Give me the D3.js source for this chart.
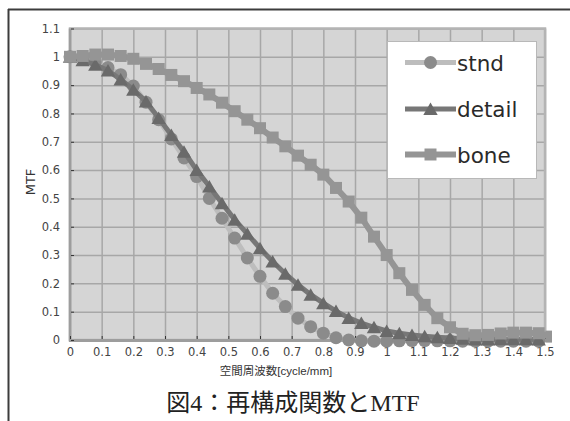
<!DOCTYPE html>
<html>
<head>
<meta charset="utf-8">
<script src="https://cdn.jsdelivr.net/npm/d3@7"></script>
<style>
  html, body { margin: 0; padding: 0; background: #fff; }
  svg { display: block; }
</style>
</head>
<body>
<svg id="chart" width="570" height="421"></svg>
<script>
// Spatial frequency samples (cycle/mm), step 0.04
const freq = [0, 0.04, 0.08, 0.12, 0.16, 0.20, 0.24, 0.28, 0.32, 0.36, 0.40, 0.44, 0.48, 0.52, 0.56,
  0.60, 0.64, 0.68, 0.72, 0.76, 0.80, 0.84, 0.88, 0.92, 0.96, 1.00, 1.04, 1.08, 1.12, 1.16,
  1.20, 1.24, 1.28, 1.32, 1.36, 1.40, 1.44, 1.48, 1.52];

// MTF per reconstruction kernel
const stnd = [1.0, 0.995, 0.982, 0.962, 0.937, 0.897, 0.84, 0.778, 0.71, 0.643, 0.577, 0.5, 0.43, 0.36, 0.29,
  0.225, 0.165, 0.118, 0.077, 0.047, 0.024, 0.008, 0.0, -0.003, -0.004, -0.004, -0.003, -0.002, -0.002, -0.003,
  -0.003, -0.004, -0.004, -0.004, -0.004, -0.004, -0.004, -0.004];
const detail = [1.0, 0.988, 0.972, 0.952, 0.92, 0.884, 0.842, 0.784, 0.724, 0.665, 0.6, 0.542, 0.483, 0.425, 0.375,
  0.324, 0.277, 0.234, 0.195, 0.16, 0.13, 0.102, 0.078, 0.06, 0.045, 0.032, 0.024, 0.018, 0.013, 0.01,
  0.007, 0.004, 0.002, 0.002, 0.003, 0.003, 0.003, 0.002];
const bone = [1.0, 1.003, 1.008, 1.008, 1.003, 0.993, 0.975, 0.957, 0.936, 0.914, 0.89, 0.867, 0.838, 0.808, 0.778,
  0.748, 0.715, 0.684, 0.651, 0.619, 0.584, 0.537, 0.489, 0.432, 0.365, 0.30, 0.236, 0.177, 0.124, 0.077,
  0.045, 0.022, 0.017, 0.018, 0.023, 0.026, 0.026, 0.024, 0.012];

const seriesNames = ["stnd", "detail", "bone"];
const xTickValues = [0, 0.1, 0.2, 0.3, 0.4, 0.5, 0.6, 0.7, 0.8, 0.9, 1, 1.1, 1.2, 1.3, 1.4, 1.5];
const yTickValues = [0, 0.1, 0.2, 0.3, 0.4, 0.5, 0.6, 0.7, 0.8, 0.9, 1, 1.1];
const xTitle = "空間周波数[cycle/mm]";
const yTitle = "MTF";
const caption = "図4：再構成関数とMTF";

const svg = d3.select("#chart");
const plot = { left: 70, right: 545, top: 28.5, bottom: 340 };

const x = d3.scaleLinear().domain([0, 1.5]).range([plot.left, plot.right]);
const y = d3.scaleLinear().domain([0, 1.1]).range([plot.bottom, plot.top]);

// outer frame (left and top rules)
svg.append("line").attr("x1", 8.5).attr("x2", 8.5).attr("y1", 9).attr("y2", 421)
  .attr("stroke", "#3c3c3c").attr("stroke-width", 2);
svg.append("line").attr("x1", 8).attr("x2", 570).attr("y1", 9.5).attr("y2", 9.5)
  .attr("stroke", "#3c3c3c").attr("stroke-width", 2);

// plot background
svg.append("rect")
  .attr("x", plot.left).attr("y", plot.top)
  .attr("width", plot.right - plot.left).attr("height", plot.bottom - plot.top)
  .attr("fill", "#d5d5d5");

// gridlines
svg.append("g")
  .attr("transform", `translate(0,${plot.bottom})`)
  .call(d3.axisBottom(x).tickValues(xTickValues).tickSize(-(plot.bottom - plot.top)).tickFormat(""))
  .call(g => g.select(".domain").remove())
  .call(g => g.selectAll("line").attr("stroke", "#a7a7a7").attr("stroke-width", 1.5));
svg.append("g")
  .attr("transform", `translate(${plot.left},0)`)
  .call(d3.axisLeft(y).tickValues(yTickValues).tickSize(-(plot.right - plot.left)).tickFormat(""))
  .call(g => g.select(".domain").remove())
  .call(g => g.selectAll("line").attr("stroke", "#a7a7a7").attr("stroke-width", 1.5));

// plot border
svg.append("rect")
  .attr("x", plot.left).attr("y", plot.top)
  .attr("width", plot.right - plot.left).attr("height", plot.bottom - plot.top)
  .attr("fill", "none").attr("stroke", "#b4b4b4").attr("stroke-width", 2.5);
svg.append("line").attr("x1", plot.left).attr("x2", plot.left).attr("y1", plot.top).attr("y2", plot.bottom + 1.5)
  .attr("stroke", "#9d9d9d").attr("stroke-width", 2.5);
svg.append("line").attr("x1", plot.left - 1).attr("x2", plot.right + 1.5).attr("y1", plot.bottom + 0.5).attr("y2", plot.bottom + 0.5)
  .attr("stroke", "#9d9d9d").attr("stroke-width", 3);

// axes with small inside ticks and labels
const tickFont = "'DejaVu Sans', 'Liberation Sans', sans-serif";
svg.append("g")
  .attr("transform", `translate(0,${plot.bottom - 1})`)
  .call(d3.axisBottom(x).tickValues(xTickValues).tickSizeInner(-3).tickSizeOuter(0).tickPadding(9)
    .tickFormat(d => d3.format("~g")(d)))
  .call(g => g.select(".domain").remove())
  .call(g => g.selectAll("line").attr("stroke", "#333").attr("stroke-width", 1))
  .call(g => g.selectAll("text").attr("font-family", tickFont).attr("font-size", 11.5).attr("fill", "#444"));
svg.append("g")
  .attr("transform", `translate(${plot.left + 1},0)`)
  .call(d3.axisLeft(y).tickValues(yTickValues).tickSizeInner(-3).tickSizeOuter(0).tickPadding(11)
    .tickFormat(d => d3.format("~g")(d)))
  .call(g => g.select(".domain").remove())
  .call(g => g.selectAll("line").attr("stroke", "#333").attr("stroke-width", 1))
  .call(g => g.selectAll("text").attr("font-family", tickFont).attr("font-size", 11.5).attr("fill", "#444"));

// axis titles
svg.append("text")
  .attr("x", 276).attr("y", 375)
  .attr("text-anchor", "middle")
  .attr("font-family", "'Liberation Sans', 'Noto Sans CJK JP', sans-serif")
  .attr("font-size", 11.5).attr("fill", "#333")
  .text(xTitle);
svg.append("text")
  .attr("transform", "translate(35,182) rotate(-90)")
  .attr("text-anchor", "middle")
  .attr("font-family", tickFont)
  .attr("font-size", 13).attr("fill", "#333")
  .text(yTitle);

// caption
svg.append("text")
  .attr("x", 293).attr("y", 411)
  .attr("text-anchor", "middle")
  .attr("font-family", "'Liberation Serif', 'Noto Sans CJK JP', serif")
  .attr("font-size", 24).attr("fill", "#222")
  .text(caption);

// series styles
const styles = {
  stnd:   { line: "#bdbdbd", lineWidth: 5, marker: "#8b8b8b", shape: "circle" },
  detail: { line: "#777777", lineWidth: 5, marker: "#6a6a6a", shape: "triangle" },
  bone:   { line: "#959595", lineWidth: 6, marker: "#959595", shape: "square" }
};
const seriesValues = { stnd, detail, bone };

function markerPath(shape) {
  if (shape === "circle") return "M-6.5,0A6.5,6.5 0 1,0 6.5,0A6.5,6.5 0 1,0 -6.5,0Z";
  if (shape === "triangle") return "M0,-6.5L7.2,6L-7.2,6Z";
  return "M-6,-6H6V6H-6Z";
}

svg.append("defs").append("clipPath").attr("id", "clip")
  .append("rect").attr("x", 0).attr("y", 0).attr("width", 552).attr("height", 421);

const marks = svg.append("g").attr("clip-path", "url(#clip)");
const line = d3.line().x(d => x(d[0])).y(d => y(d[1]));

seriesNames.forEach(name => {
  const pts = seriesValues[name].map((v, i) => [freq[i], v]);
  const st = styles[name];
  const g = marks.append("g");
  g.append("path").datum(pts).attr("d", line)
    .attr("fill", "none").attr("stroke", st.line).attr("stroke-width", st.lineWidth)
    .attr("stroke-linejoin", "round");
  g.selectAll("path.m").data(pts).join("path").attr("class", "m")
    .attr("transform", d => `translate(${x(d[0])},${y(d[1])})`)
    .attr("d", markerPath(st.shape))
    .attr("fill", st.marker);
});

// legend
const legend = svg.append("g");
legend.append("rect").attr("x", 387.5).attr("y", 41.5).attr("width", 149).attr("height", 137)
  .attr("fill", "#fff").attr("stroke", "#b8b8b8").attr("stroke-width", 1);
const legendY = [62.5, 109, 154.5];
seriesNames.forEach((name, i) => {
  const st = styles[name];
  const gy = legendY[i];
  legend.append("line").attr("x1", 405).attr("x2", 456).attr("y1", gy).attr("y2", gy)
    .attr("stroke", st.line).attr("stroke-width", st.lineWidth);
  legend.append("path").attr("transform", `translate(430.5,${gy})`)
    .attr("d", markerPath(st.shape)).attr("fill", st.marker);
  legend.append("text").attr("x", 457).attr("y", gy + 8)
    .attr("font-family", tickFont).attr("font-size", 21.5).attr("fill", "#2a2a2a")
    .text(name);
});
</script>
</body>
</html>
